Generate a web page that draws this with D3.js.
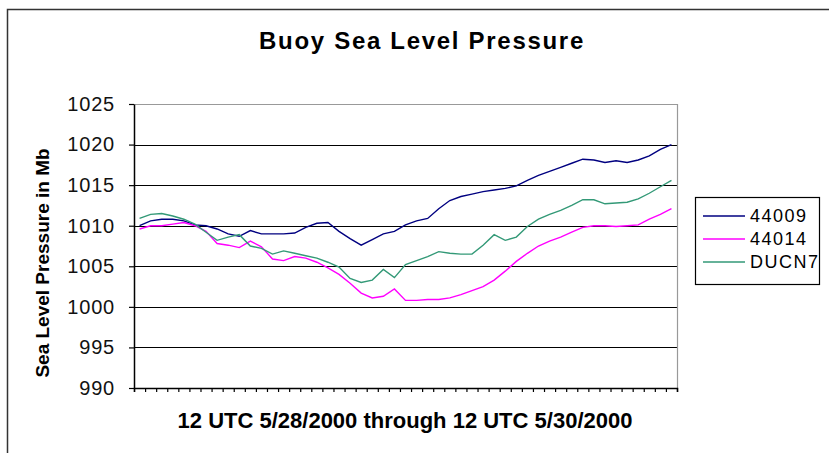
<!DOCTYPE html>
<html lang="en">
<head>
    <meta charset="UTF-8">
    <script src="https://d3js.org/d3.v7.min.js"></script>
    <style>
        body { margin: 0; background: #fff; font-family: "Liberation Sans", Arial, sans-serif; overflow: hidden; }
        .title { font-size: 24px; font-weight: bold; letter-spacing: 1.7px; text-anchor: middle; }
        .axis-label { font-size: 20px; font-weight: bold; text-anchor: middle; }
        .legend-text { font-size: 18px; letter-spacing: 1.5px; }
    </style>
</head>
<body>
    <svg id="chart" width="829" height="453"></svg>

    <script>
        // hourly readings, 12 UTC 5/28/2000 -> 12 UTC 5/30/2000
        const hours = d3.range(49);
        const seriesNames = ["44009", "44014", "DUCN7"];
        const seriesColors = ["#000080", "#ff00ff", "#339977"];
        const yTicks = [990, 995, 1000, 1005, 1010, 1015, 1020, 1025];

        const buoy44009 = [
            1010.0, 1010.6, 1010.8, 1010.8, 1010.6, 1010.1, 1010.0, 1009.6, 1009.0, 1008.7,
            1009.4, 1009.0, 1009.0, 1009.0, 1009.1, 1009.8, 1010.3, 1010.4, 1009.3, 1008.4,
            1007.6, 1008.3, 1009.0, 1009.3, 1010.1, 1010.6, 1010.9, 1012.1, 1013.1, 1013.6,
            1013.9, 1014.2, 1014.4, 1014.6, 1014.9, 1015.6, 1016.2, 1016.7, 1017.2, 1017.7,
            1018.2, 1018.1, 1017.8, 1018.0, 1017.8, 1018.1, 1018.6, 1019.4, 1020.0
        ];
        const buoy44014 = [
            1009.6, 1010.0, 1010.0, 1010.2, 1010.4, 1010.0, 1009.3, 1007.8, 1007.6, 1007.3,
            1008.1, 1007.4, 1005.9, 1005.7, 1006.2, 1006.0, 1005.5, 1004.8, 1004.0, 1002.9,
            1001.7, 1001.1, 1001.3, 1002.2, 1000.8, 1000.8, 1000.9, 1000.9, 1001.1, 1001.5,
            1002.0, 1002.5, 1003.3, 1004.4, 1005.6, 1006.6, 1007.5, 1008.1, 1008.6, 1009.2,
            1009.8, 1010.0, 1010.0, 1009.9, 1010.0, 1010.1, 1010.8, 1011.4, 1012.1
        ];
        const ducn7 = [
            1010.9, 1011.4, 1011.5, 1011.2, 1010.8, 1010.2, 1009.2, 1008.2, 1008.6, 1008.9,
            1007.5, 1007.2, 1006.5, 1006.9, 1006.6, 1006.3, 1006.0, 1005.5, 1004.9, 1003.5,
            1003.0, 1003.3, 1004.6, 1003.6, 1005.2, 1005.7, 1006.2, 1006.8, 1006.6, 1006.5,
            1006.5, 1007.6, 1008.9, 1008.2, 1008.6, 1009.9, 1010.8, 1011.4, 1011.9, 1012.5,
            1013.2, 1013.2, 1012.7, 1012.8, 1012.9, 1013.3, 1014.0, 1014.8, 1015.6
        ];
        const seriesValues = [buoy44009, buoy44014, ducn7];

        const svg = d3.select("#chart");
        const plot = {left: 134, right: 677, top: 104, bottom: 388};

        // outer chart frame (runs off the right and bottom edges)
        svg.append("rect")
            .attr("x", 7.5).attr("y", 9.5)
            .attr("width", 900).attr("height", 600)
            .attr("fill", "none").attr("stroke", "#333").attr("stroke-width", 1.5);

        const x = d3.scaleBand().domain(hours).range([plot.left, plot.right]).padding(0);
        const xEdge = d3.scaleLinear().domain([0, hours.length]).range([plot.left, plot.right]);
        const y = d3.scaleLinear().domain([990, 1025]).range([plot.bottom, plot.top]);

        // gridlines
        svg.append("g").selectAll("line")
            .data(yTicks.filter(d => d > 990 && d < 1025))
            .join("line")
            .attr("x1", plot.left).attr("x2", plot.right)
            .attr("y1", d => Math.round(y(d)) + 0.5).attr("y2", d => Math.round(y(d)) + 0.5)
            .attr("stroke", "#000").attr("stroke-width", 1.2);

        // gray plot-area border on top and right
        svg.append("path")
            .attr("d", `M${plot.left},${Math.round(y(1025)) + 0.5}H${plot.right + 0.5}V${plot.bottom}`)
            .attr("fill", "none").attr("stroke", "#999").attr("stroke-width", 1.2);

        const yAxis = svg.append("g")
            .attr("transform", `translate(${plot.left},0)`)
            .call(d3.axisLeft(y).tickValues(yTicks).tickFormat(d3.format("d"))
                .tickSize(5).tickPadding(14).tickSizeOuter(0));
        yAxis.select(".domain").attr("stroke", "#000").attr("stroke-width", 1.5);
        yAxis.selectAll(".tick line").attr("stroke", "#000").attr("stroke-width", 1.2);
        yAxis.selectAll("text")
            .style("font-size", "20px").style("letter-spacing", "0.8px")
            .style("font-family", "'Liberation Sans', Arial, sans-serif")
            .attr("fill", "#111");

        const xAxis = svg.append("g")
            .attr("transform", `translate(0,${plot.bottom})`)
            .call(d3.axisBottom(xEdge).tickValues(d3.range(hours.length + 1)).tickSize(4).tickFormat(""));
        xAxis.select(".domain").attr("stroke", "#000").attr("stroke-width", 1.5);
        xAxis.selectAll(".tick line").attr("stroke", "#000").attr("stroke-width", 1.2);

        // series lines
        const line = d3.line()
            .x((d, i) => x(hours[i]) + x.bandwidth() / 2)
            .y(d => y(d));

        seriesValues.forEach((vals, k) => {
            svg.append("path")
                .datum(vals)
                .attr("d", line)
                .attr("fill", "none")
                .attr("stroke", seriesColors[k])
                .attr("stroke-width", 1.4);
        });

        // title and axis labels
        svg.append("text").attr("class", "title")
            .attr("x", 422).attr("y", 49)
            .text("Buoy Sea Level Pressure");

        svg.append("text").attr("class", "axis-label")
            .attr("x", 405).attr("y", 428)
            .style("font-size", "22px")
            .text("12 UTC 5/28/2000 through 12 UTC 5/30/2000");

        svg.append("text").attr("class", "axis-label")
            .attr("transform", "translate(49,263) rotate(-90)")
            .style("font-size", "19px")
            .text("Sea Level Pressure in Mb");

        // legend
        const legend = svg.append("g");
        legend.append("rect")
            .attr("x", 695.5).attr("y", 197.5)
            .attr("width", 124).attr("height", 87)
            .attr("fill", "#fff").attr("stroke", "#000").attr("stroke-width", 1.2);

        const items = legend.selectAll(".item")
            .data(seriesNames)
            .join("g")
            .attr("class", "item")
            .attr("transform", (d, i) => `translate(0,${216 + i * 23})`);
        items.append("line")
            .attr("x1", 703).attr("x2", 745)
            .attr("stroke", (d, i) => seriesColors[i]).attr("stroke-width", 1.5);
        items.append("text").attr("class", "legend-text")
            .attr("x", 750).attr("dy", "0.36em")
            .text(d => d);
    </script>
</body>
</html>
